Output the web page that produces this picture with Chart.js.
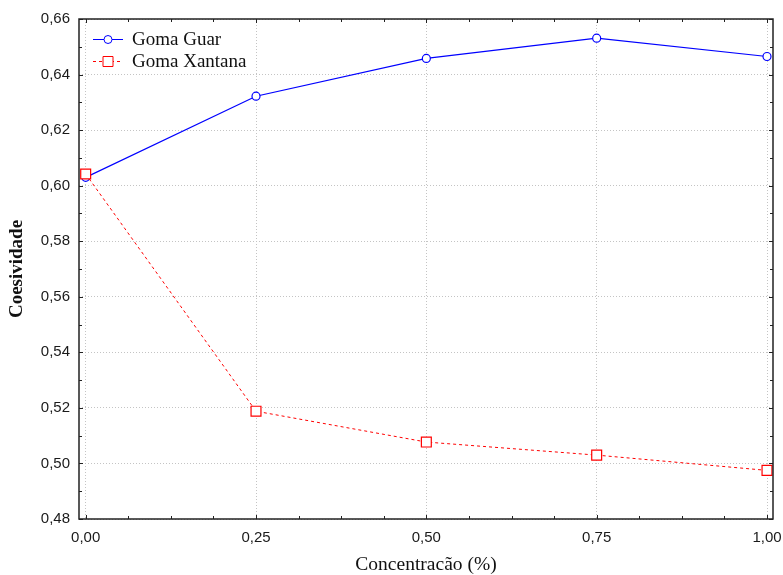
<!DOCTYPE html>
<html>
<head>
<meta charset="utf-8">
<title>Coesividade</title>
<script src="https://cdn.jsdelivr.net/npm/chart.js@4/dist/chart.umd.min.js"></script>
<style>
  html, body { margin: 0; padding: 0; background: #fff; }
  #wrap { width: 783px; height: 575px; }
</style>
</head>
<body>
<div id="wrap"><canvas id="chart" width="783" height="575"></canvas></div>
<script>
'use strict';

// ******* DATA *******
let concentracao = [0, 0.25, 0.5, 0.75, 1.0];
let gomaGuar = [0.6030, 0.6322, 0.6458, 0.6531, 0.6465];
let gomaXantana = [0.6042, 0.5188, 0.5077, 0.5030, 0.4975];
let xTicks = [0, 0.25, 0.5, 0.75, 1.0];
let yTicks = [0.48, 0.50, 0.52, 0.54, 0.56, 0.58, 0.60, 0.62, 0.64, 0.66];

// ******* DOM *******
let canvasElem = document.getElementById('chart');

// ***** HELPERS *****
function toComma(v) {
  return v.toFixed(2).replace('.', ',');
}

function toPoints(xs, ys) {
  let pts = [];
  for (let i = 0; i < xs.length; i++) {
    pts.push({ x: xs[i], y: ys[i] });
  }
  return pts;
}

// frame with inward major/minor ticks on all four sides
let framePlugin = {
  id: 'frame',
  afterDraw(chart) {
    let ctx = chart.ctx;
    let a = chart.chartArea;
    let xs = chart.scales.x;
    let ys = chart.scales.y;
    ctx.save();
    ctx.strokeStyle = '#222';
    ctx.lineWidth = 1;
    ctx.beginPath();
    for (let v = 0; v <= 1.0001; v += 0.0625) {
      let px = Math.round(xs.getPixelForValue(v)) + 0.5;
      let len = Math.abs(v * 4 - Math.round(v * 4)) < 1e-6 ? 4 : 3;
      ctx.moveTo(px, a.bottom);
      ctx.lineTo(px, a.bottom - len);
      ctx.moveTo(px, a.top);
      ctx.lineTo(px, a.top + len);
    }
    for (let k = 0; k <= 18; k++) {
      let py = Math.round(ys.getPixelForValue(0.48 + k * 0.01)) + 0.5;
      let len = k % 2 === 0 ? 4 : 3;
      ctx.moveTo(a.left, py);
      ctx.lineTo(a.left + len, py);
      ctx.moveTo(a.right, py);
      ctx.lineTo(a.right - len, py);
    }
    ctx.stroke();
    ctx.lineWidth = 1.5;
    ctx.strokeRect(a.left, a.top, a.right - a.left, a.bottom - a.top);
    ctx.restore();
  }
};

// legend: short line sample with marker, then the label
let legendPlugin = {
  id: 'legendBox',
  afterDraw(chart) {
    let ctx = chart.ctx;
    let a = chart.chartArea;
    let rows = [
      { text: 'Goma Guar', color: '#0000ff', dash: [], shape: 'circle' },
      { text: 'Goma Xantana', color: '#ff0000', dash: [3, 3], shape: 'rect' }
    ];
    ctx.save();
    for (let i = 0; i < rows.length; i++) {
      let r = rows[i];
      let y = a.top + 20.5 + i * 22;
      let x0 = a.left + 14;
      ctx.strokeStyle = r.color;
      ctx.lineWidth = 1;
      ctx.setLineDash(r.dash);
      ctx.beginPath();
      ctx.moveTo(x0, y);
      ctx.lineTo(x0 + 30, y);
      ctx.stroke();
      ctx.setLineDash([]);
      ctx.fillStyle = '#fff';
      ctx.beginPath();
      if (r.shape === 'circle') {
        ctx.arc(x0 + 15, y, 4, 0, Math.PI * 2);
      } else {
        ctx.rect(x0 + 10, y - 5, 10, 10);
      }
      ctx.fill();
      ctx.stroke();
      ctx.fillStyle = '#111';
      ctx.font = '19px "Liberation Serif", "Times New Roman", serif';
      ctx.textBaseline = 'middle';
      ctx.textAlign = 'left';
      ctx.fillText(r.text, x0 + 39, y + 1);
    }
    ctx.restore();
  }
};

// ***** CHART *****
function renderChart() {
  let tickFont = { family: '"Liberation Sans", Arial, sans-serif', size: 15 };

  let chartObj = {
    type: 'line',
    data: {
      datasets: [{
        label: 'Goma Guar',
        data: toPoints(concentracao, gomaGuar),
        borderColor: '#0000ff',
        borderWidth: 1.2,
        backgroundColor: '#ffffff',
        pointStyle: 'circle',
        pointRadius: 4,
        pointBorderWidth: 1.2,
        pointBorderColor: '#0000ff',
        pointBackgroundColor: '#ffffff',
        tension: 0,
        order: 1
      },
      {
        label: 'Goma Xantana',
        data: toPoints(concentracao, gomaXantana),
        borderColor: '#ff0000',
        borderWidth: 1,
        borderDash: [3, 3],
        backgroundColor: '#ffffff',
        pointStyle: 'rect',
        pointRadius: 7,
        pointBorderWidth: 1.2,
        pointBorderColor: '#ff0000',
        pointBackgroundColor: '#ffffff',
        tension: 0,
        order: 0
      }]
    },
    options: {
      responsive: false,
      animation: false,
      clip: false,
      layout: { padding: { left: 0, right: 10, top: 19, bottom: 0 } },
      plugins: {
        legend: { display: false },
        tooltip: { enabled: false }
      },
      scales: {
        x: {
          type: 'linear',
          min: -0.0098,
          max: 1.0088,
          afterBuildTicks: (scale) => {
            scale.ticks = xTicks.map((v) => ({ value: v }));
          },
          afterFit: (scale) => {
            scale.height = 56;
            scale.paddingLeft = 0;
            scale.paddingRight = 0;
          },
          grid: { color: '#c4c4c4', lineWidth: 1, drawTicks: false },
          border: { display: false, dash: [1, 2] },
          ticks: {
            padding: 10,
            maxRotation: 0,
            color: '#1a1a1a',
            font: tickFont,
            callback: (v) => toComma(v)
          },
          title: {
            display: true,
            text: 'Concentracão (%)',
            color: '#111',
            font: { family: '"Liberation Serif", "Times New Roman", serif', size: 19.5, lineHeight: 1 },
            padding: { top: 0, bottom: 0 }
          }
        },
        y: {
          min: 0.48,
          max: 0.66,
          afterBuildTicks: (scale) => {
            scale.ticks = yTicks.map((v) => ({ value: v }));
          },
          afterFit: (scale) => {
            scale.width = 79;
            scale.paddingTop = 0;
            scale.paddingBottom = 0;
          },
          grid: { color: '#c4c4c4', lineWidth: 1, drawTicks: false },
          border: { display: false, dash: [1, 2] },
          ticks: {
            padding: 9,
            color: '#1a1a1a',
            font: tickFont,
            callback: (v) => toComma(v)
          },
          title: {
            display: true,
            text: 'Coesividade',
            color: '#111',
            font: { family: '"Liberation Serif", "Times New Roman", serif', size: 19, weight: 'bold', lineHeight: 1 },
            padding: { top: 8, bottom: 0 }
          }
        }
      }
    },
    plugins: [framePlugin, legendPlugin]
  };

  new Chart(canvasElem, chartObj);
}

renderChart();
</script>
</body>
</html>
